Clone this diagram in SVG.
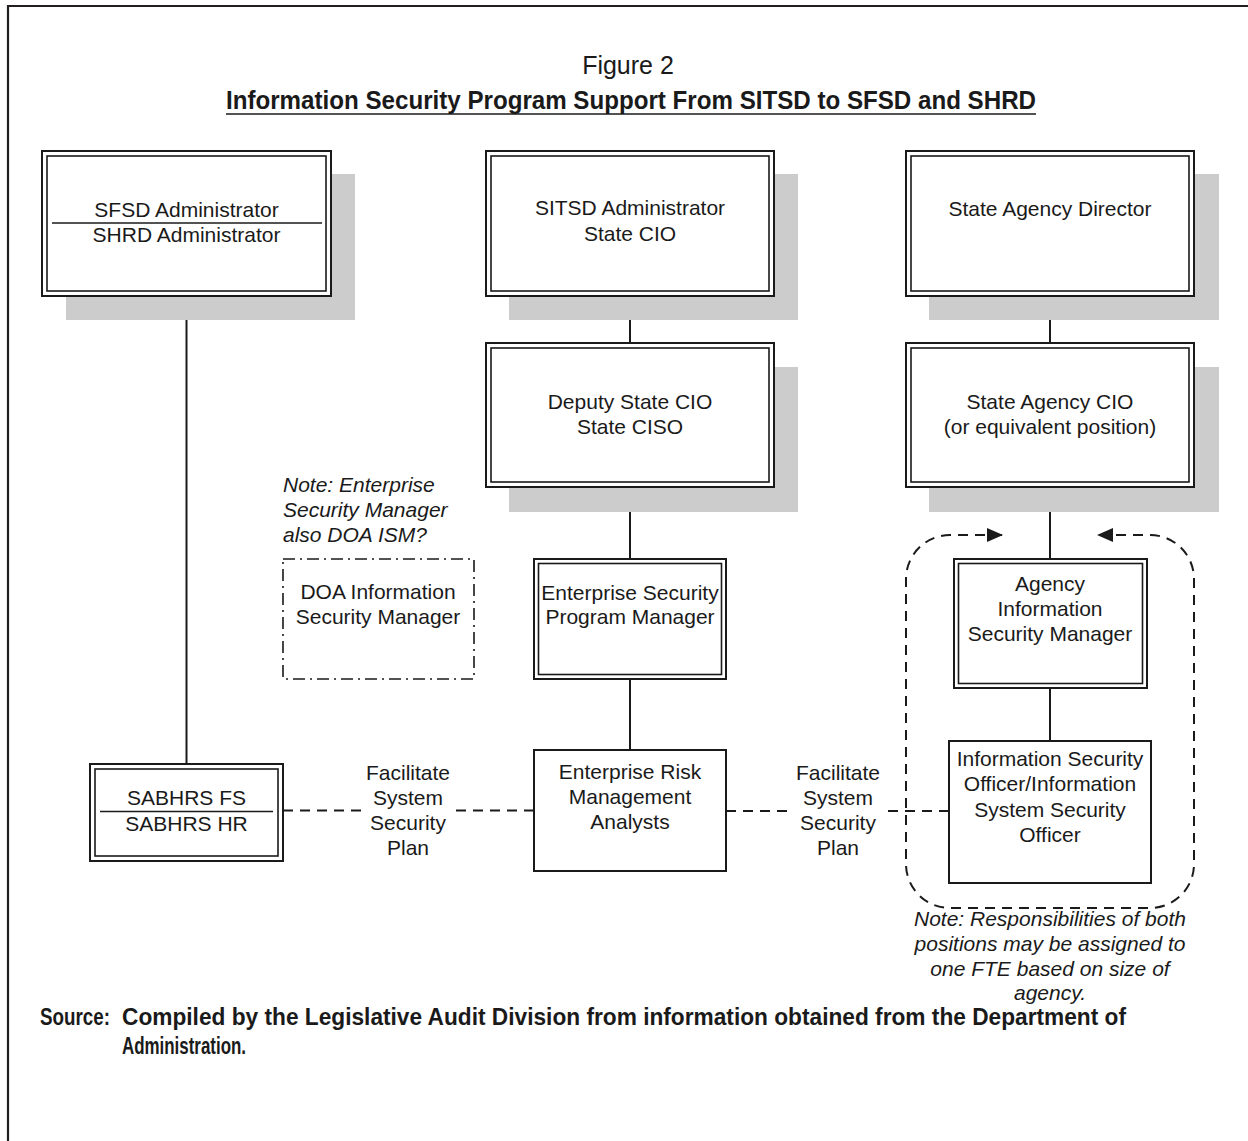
<svg xmlns="http://www.w3.org/2000/svg" width="1248" height="1141" viewBox="0 0 1248 1141">
<style>
text{font-family:"Liberation Sans",Arial,sans-serif;fill:#1a1a1a}
.t{font-size:21px;text-anchor:middle}
.it{font-size:21px;font-style:italic}
.src{font-size:23px;font-weight:bold}
.sh{fill:#cccccc;stroke:none}
.ob{fill:#fff;stroke:#1a1a1a;stroke-width:2}
.ib{fill:none;stroke:#1a1a1a;stroke-width:1.6}
.ln{stroke:#1a1a1a;stroke-width:2;fill:none}
.dl{stroke:#1a1a1a;stroke-width:2;fill:none;stroke-dasharray:10 7}
.dd{stroke:#1a1a1a;stroke-width:1.6;fill:none;stroke-dasharray:12 5 2 5}
</style>
<defs>
<marker id="ah" viewBox="0 0 16 14" refX="15" refY="7" markerWidth="16" markerHeight="14" markerUnits="userSpaceOnUse" orient="auto-start-reverse">
<path d="M0,0 L16,7 L0,14 Z" fill="#1a1a1a"/>
</marker>
</defs>
<rect width="1248" height="1141" fill="#fff"/>
<path d="M8,1141 V6 H1248" fill="none" stroke="#231f20" stroke-width="2.2"/>
<g id="title">
<text x="628" y="74" style="font-size:25px;text-anchor:middle">Figure 2</text>
<text x="226" y="109" textLength="810" lengthAdjust="spacingAndGlyphs" style="font-size:26px;font-weight:bold">Information Security Program Support From SITSD to SFSD and SHRD</text>
<line x1="226" y1="114" x2="1036" y2="114" stroke="#1a1a1a" stroke-width="1.6"/>
</g>
<g id="connectors">
<line class="ln" x1="186.5" y1="296" x2="186.5" y2="764"/>
<line class="ln" x1="630" y1="296" x2="630" y2="343"/>
<line class="ln" x1="630" y1="487" x2="630" y2="559"/>
<line class="ln" x1="630" y1="679" x2="630" y2="750"/>
<line class="ln" x1="1050" y1="296" x2="1050" y2="343"/>
<line class="ln" x1="1050" y1="487" x2="1050" y2="559"/>
<line class="ln" x1="1050" y1="688" x2="1050" y2="741"/>
<line class="dl" x1="283" y1="810.5" x2="362" y2="810.5"/>
<line class="dl" x1="534" y1="810.5" x2="451" y2="810.5"/>
<line class="dl" x1="726" y1="811" x2="792" y2="811"/>
<line class="dl" x1="949" y1="811" x2="884" y2="811"/>
<path class="dl" d="M1002,535 H950 A44,44 0 0 0 906,579 V864 A44,44 0 0 0 950,908 H1150 A44,44 0 0 0 1194,864 V579 A44,44 0 0 0 1150,535 H1098" marker-start="url(#ah)" marker-end="url(#ah)"/>
<text class="t" x="408" y="780">Facilitate</text>
<text class="t" x="408" y="805">System</text>
<text class="t" x="408" y="830">Security</text>
<text class="t" x="408" y="855">Plan</text>
<text class="t" x="838" y="780">Facilitate</text>
<text class="t" x="838" y="805">System</text>
<text class="t" x="838" y="830">Security</text>
<text class="t" x="838" y="855">Plan</text>
</g>
<g id="n-sfsd">
<rect class="sh" x="66" y="174" width="289" height="146"/>
<rect class="ob" x="42" y="151" width="289" height="145"/>
<rect class="ib" x="47" y="156" width="279" height="135"/>
<line x1="52" y1="223" x2="322" y2="223" stroke="#1a1a1a" stroke-width="1.6"/>
<text class="t" x="186.5" y="217">SFSD Administrator</text>
<text class="t" x="186.5" y="242">SHRD Administrator</text>
</g>
<g id="n-sitsd">
<rect class="sh" x="509" y="174" width="289" height="146"/>
<rect class="ob" x="486" y="151" width="288" height="145"/>
<rect class="ib" x="491" y="156" width="278" height="135"/>
<text class="t" x="630" y="215">SITSD Administrator</text>
<text class="t" x="630" y="241">State CIO</text>
</g>
<g id="n-director">
<rect class="sh" x="929" y="174" width="290" height="146"/>
<rect class="ob" x="906" y="151" width="288" height="145"/>
<rect class="ib" x="911" y="156" width="278" height="135"/>
<text class="t" x="1050" y="216">State Agency Director</text>
</g>
<g id="n-deputy">
<rect class="sh" x="509" y="367" width="289" height="145"/>
<rect class="ob" x="486" y="343" width="288" height="144"/>
<rect class="ib" x="491" y="348" width="278" height="134"/>
<text class="t" x="630" y="409">Deputy State CIO</text>
<text class="t" x="630" y="434">State CISO</text>
</g>
<g id="n-agencycio">
<rect class="sh" x="929" y="367" width="290" height="145"/>
<rect class="ob" x="906" y="343" width="288" height="144"/>
<rect class="ib" x="911" y="348" width="278" height="134"/>
<text class="t" x="1050" y="409">State Agency CIO</text>
<text class="t" x="1050" y="434">(or equivalent position)</text>
</g>
<g id="n-doa">
<rect class="dd" x="283" y="559" width="191" height="120"/>
<text class="t" x="378" y="599">DOA Information</text>
<text class="t" x="378" y="624">Security Manager</text>
</g>
<g id="note-left">
<text class="it" x="283" y="492">Note: Enterprise</text>
<text class="it" x="283" y="517">Security Manager</text>
<text class="it" x="283" y="542">also DOA ISM?</text>
</g>
<g id="n-espm">
<rect class="ob" x="534" y="559" width="192" height="120"/>
<rect class="ib" x="538.5" y="563.5" width="183" height="111"/>
<text class="t" x="630" y="600">Enterprise Security</text>
<text class="t" x="630" y="624">Program Manager</text>
</g>
<g id="n-erm">
<rect class="ob" x="534" y="750" width="192" height="121"/>
<text class="t" x="630" y="779">Enterprise Risk</text>
<text class="t" x="630" y="804">Management</text>
<text class="t" x="630" y="829">Analysts</text>
</g>
<g id="n-aism">
<rect class="ob" x="954" y="559" width="193" height="129"/>
<rect class="ib" x="958.5" y="563.5" width="184" height="120"/>
<text class="t" x="1050" y="591">Agency</text>
<text class="t" x="1050" y="616">Information</text>
<text class="t" x="1050" y="641">Security Manager</text>
</g>
<g id="n-iso">
<rect class="ob" x="949" y="741" width="202" height="142"/>
<text class="t" x="1050" y="766">Information Security</text>
<text class="t" x="1050" y="791">Officer/Information</text>
<text class="t" x="1050" y="817">System Security</text>
<text class="t" x="1050" y="842">Officer</text>
</g>
<g id="n-sabhrs">
<rect class="ob" x="90" y="764" width="193" height="97"/>
<rect class="ib" x="95" y="769" width="183" height="87"/>
<line x1="100" y1="811.5" x2="273" y2="811.5" stroke="#1a1a1a" stroke-width="1.6"/>
<text class="t" x="186.5" y="805">SABHRS FS</text>
<text class="t" x="186.5" y="831">SABHRS HR</text>
</g>
<g id="note-right">
<text class="it" x="1050" y="926" text-anchor="middle">Note: Responsibilities of both</text>
<text class="it" x="1050" y="951" text-anchor="middle">positions may be assigned to</text>
<text class="it" x="1050" y="976" text-anchor="middle">one FTE based on size of</text>
<text class="it" x="1050" y="1000" text-anchor="middle">agency.</text>
</g>
<g id="source">
<text class="src" x="40" y="1025" textLength="70" lengthAdjust="spacingAndGlyphs">Source:</text>
<text class="src" x="122" y="1025" textLength="1004" lengthAdjust="spacingAndGlyphs">Compiled by the Legislative Audit Division from information obtained from the Department of</text>
<text class="src" x="122" y="1054" textLength="124" lengthAdjust="spacingAndGlyphs">Administration.</text>
</g>
</svg>
